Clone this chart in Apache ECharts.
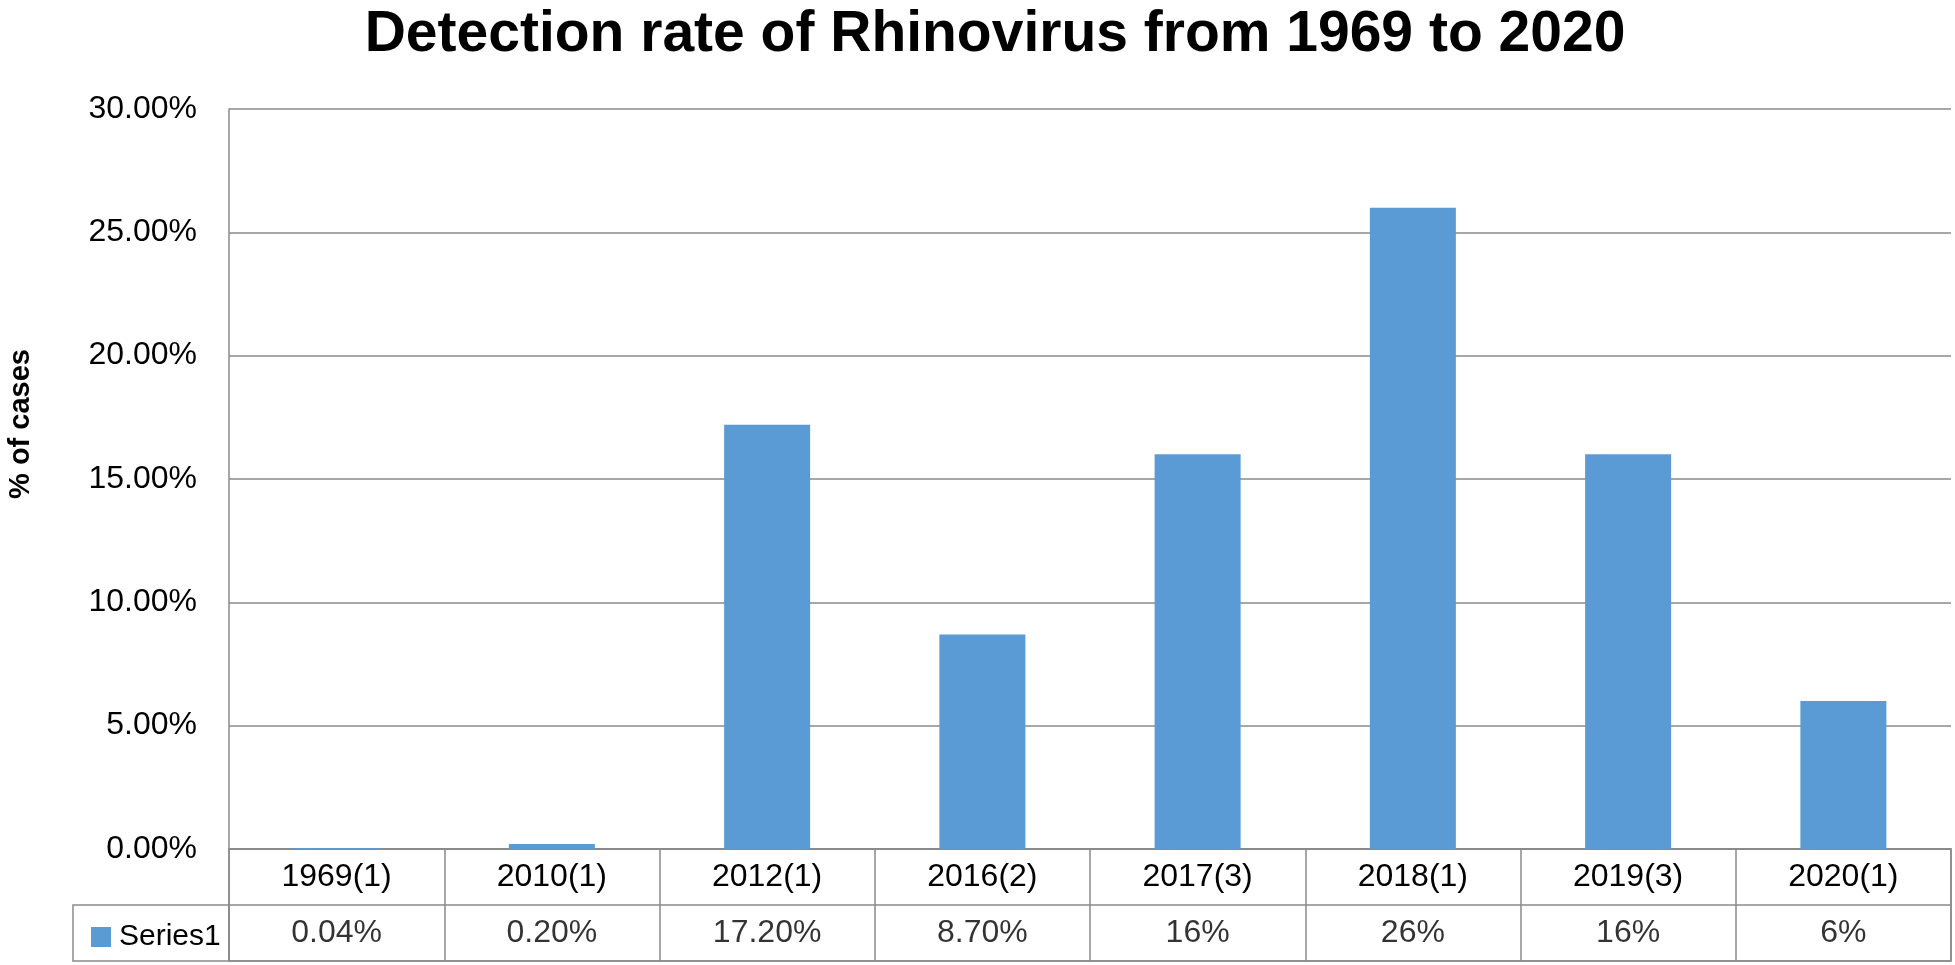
<!DOCTYPE html>
<html>
<head>
<meta charset="utf-8">
<script src="https://cdn.jsdelivr.net/npm/echarts@6/dist/echarts.min.js"></script>
<style>
  html, body { margin: 0; padding: 0; background: #fff; }
  #chart { width: 1955px; height: 965px; }
</style>
</head>
<body>
<div id="chart"></div>
<script>
// Detection rate of Rhinovirus, one bar per year (number of studies in brackets)
const categories = ['1969(1)', '2010(1)', '2012(1)', '2016(2)', '2017(3)', '2018(1)', '2019(3)', '2020(1)'];
const rates = [0.04, 0.2, 17.2, 8.7, 16, 26, 16, 6];
const tableLabels = ['0.04%', '0.20%', '17.20%', '8.70%', '16%', '26%', '16%', '6%'];
const seriesName = 'Series1';

const FONT = 'Liberation Sans';
const GRID_COLOR = '#8a8a8a';
const BAR_COLOR = '#5b9bd5';

const chart = echarts.init(document.getElementById('chart'));

const option = {
  backgroundColor: '#fff',
  animation: false,
  title: {
    text: 'Detection rate of Rhinovirus from 1969 to 2020',
    left: 990,
    textAlign: 'center',
    top: 2,
    textStyle: { fontFamily: FONT, fontWeight: 'bold', fontSize: 57, color: '#000' }
  },
  legend: {
    data: [seriesName],
    left: 86,
    top: 917,
    icon: 'rect',
    itemWidth: 20,
    itemHeight: 20,
    textStyle: { fontFamily: FONT, fontSize: 30, color: '#000', padding: [0, 0, 0, 3] }
  },
  graphic: [{
    type: 'text',
    x: 21,
    y: 424,
    rotation: Math.PI / 2,
    style: {
      text: '% of cases',
      font: 'bold 29px "Liberation Sans"',
      fill: '#000',
      textAlign: 'center',
      textVerticalAlign: 'middle'
    }
  }],
  grid: [
    // bars
    { left: 229, right: 4, top: 109, bottom: 116 },
    // data table (category row + value row)
    { left: 229, right: 4, top: 849, height: 112, show: true, borderColor: GRID_COLOR, borderWidth: 1.5 },
    // legend cell of the table
    { left: 73, width: 156, top: 905, height: 56, show: true, borderColor: GRID_COLOR, borderWidth: 1.5 }
  ],
  xAxis: [
    {
      type: 'category',
      gridIndex: 0,
      data: categories,
      axisLine: { show: true, lineStyle: { color: GRID_COLOR, width: 1.5 } },
      axisTick: { show: false },
      axisLabel: { fontFamily: FONT, fontSize: 32, color: '#000', margin: 12, interval: 0 }
    },
    {
      type: 'category',
      gridIndex: 1,
      data: categories,
      axisLine: { show: false },
      axisTick: { show: false },
      axisLabel: { show: false },
      splitLine: { show: true, interval: 0, lineStyle: { color: GRID_COLOR, width: 1.5 } }
    },
    { type: 'value', gridIndex: 2, show: false }
  ],
  yAxis: [
    {
      type: 'value',
      gridIndex: 0,
      min: 0,
      max: 30,
      interval: 5,
      axisLine: { show: true, lineStyle: { color: GRID_COLOR, width: 1.5 } },
      axisTick: { show: false },
      axisLabel: {
        fontFamily: FONT, fontSize: 32, color: '#000', margin: 32,
        formatter: v => v.toFixed(2) + '%'
      },
      splitLine: { lineStyle: { color: GRID_COLOR, width: 1.5 } }
    },
    {
      type: 'category',
      gridIndex: 1,
      inverse: true,
      data: ['year', 'rate'],
      axisLine: { show: false },
      axisTick: { show: false },
      axisLabel: { show: false },
      splitLine: { show: true, interval: 0, lineStyle: { color: GRID_COLOR, width: 1.5 } }
    },
    { type: 'value', gridIndex: 2, show: false }
  ],
  series: [
    {
      name: seriesName,
      type: 'bar',
      xAxisIndex: 0,
      yAxisIndex: 0,
      data: rates,
      barWidth: 86,
      itemStyle: { color: BAR_COLOR }
    },
    {
      // values written in the table row
      type: 'scatter',
      xAxisIndex: 1,
      yAxisIndex: 1,
      data: rates.map((v, i) => [i, 1]),
      symbolSize: 1,
      itemStyle: { color: 'rgba(0,0,0,0)' },
      silent: true,
      label: {
        show: true,
        position: 'inside',
        fontFamily: FONT,
        fontSize: 32,
        color: '#000',
        formatter: p => tableLabels[p.dataIndex]
      }
    }
  ]
};

chart.setOption(option);
</script>
</body>
</html>
